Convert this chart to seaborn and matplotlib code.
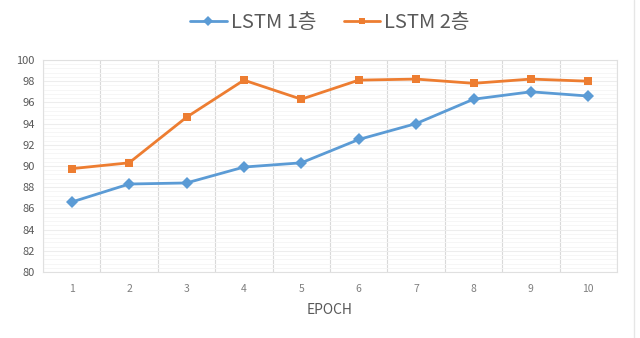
import numpy as np
import pandas as pd
import matplotlib
matplotlib.use('Agg')
import matplotlib.pyplot as plt
import seaborn as sns
from matplotlib.ticker import MultipleLocator

# 데이터
epochs = [1, 2, 3, 4, 5, 6, 7, 8, 9, 10]
lstm1 = [86.6, 88.3, 88.4, 89.9, 90.3, 92.5, 94.0, 96.3, 97.0, 96.6]
lstm2 = [89.75, 90.3, 94.6, 98.1, 96.3, 98.1, 98.2, 97.8, 98.2, 98.0]
series_names = ['LSTM 1층', 'LSTM 2층']

df = pd.DataFrame({'EPOCH': epochs * 2,
                   'acc': lstm1 + lstm2,
                   'model': [series_names[0]] * 10 + [series_names[1]] * 10})

sns.set_theme(style='white')
plt.rcParams['font.family'] = ['Noto Sans CJK KR', 'DejaVu Sans']

fig = plt.figure(figsize=(6.4, 3.38), dpi=100)
ax = fig.add_axes([43 / 640, 1 - 272 / 338, 574 / 640, 212 / 338])

palette = {series_names[0]: '#5B9BD5', series_names[1]: '#ED7D31'}
sns.lineplot(data=df, x='EPOCH', y='acc', hue='model', style='model',
             markers={series_names[0]: 'D', series_names[1]: 's'},
             dashes=False, palette=palette, linewidth=2,
             markersize=6, markeredgewidth=0, ax=ax)

ax.set_xlim(0.5, 10.5)
ax.set_ylim(80, 100)
ax.set_xticks(epochs)
ax.set_xticklabels([str(e) for e in epochs])
ax.xaxis.set_minor_locator(MultipleLocator(1, offset=0.5))
ax.yaxis.set_major_locator(MultipleLocator(2))
ax.yaxis.set_minor_locator(MultipleLocator(0.4))

ax.grid(which='minor', axis='x', color='#D9D9D9', linewidth=0.8)
ax.grid(which='major', axis='y', color='#EDEDED', linewidth=0.8)
ax.grid(which='minor', axis='y', color='#F5F5F5', linewidth=0.6)
ax.set_axisbelow(True)
ax.tick_params(which='both', length=0)
ax.tick_params(axis='x', labelsize=7.5, colors='#7F7F7F', pad=9)
ax.tick_params(axis='y', labelsize=8, colors='#595959', pad=6)

for s in ax.spines.values():
    s.set_color('#E0E0E0')
    s.set_linewidth(0.8)

ax.set_xlabel('EPOCH', fontsize=10, color='#595959', labelpad=6)
ax.set_ylabel('')

handles, labels = ax.get_legend_handles_labels()
for h in handles:
    h.set_markersize(5)
ax.legend(handles, labels, loc='lower center', bbox_to_anchor=(0.5, 1.04),
          ncol=2, frameon=False, fontsize=14.5, labelcolor='#595959',
          handlelength=1.8, columnspacing=1.4, handletextpad=0.2)

fig.add_artist(plt.Line2D([634 / 640, 634 / 640], [0, 1], color='#E6E6E6', linewidth=1))

plt.savefig('out.png', dpi=100)
